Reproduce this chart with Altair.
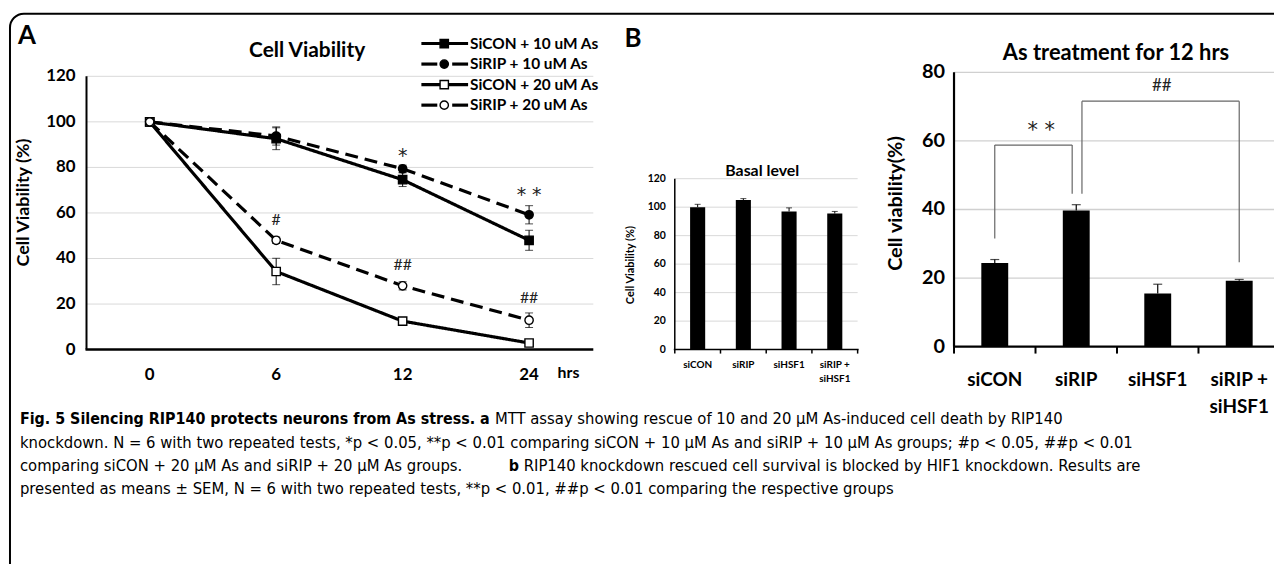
import altair as alt
import pandas as pd

OFF = 8          # page margin; all pixel positions below are page coordinates minus OFF
W, H = 1274, 556
FONT = "Lato"
SIG_FONT = "DejaVu Sans"
CAP_FONT = "DejaVu Sans Condensed, Liberation Sans Narrow, Noto Sans"

# ---------------- Panel A data ----------------
hours = ["0", "6", "12", "24"]
series = ["SiCON + 10 uM As", "SiRIP + 10 uM As", "SiCON + 20 uM As", "SiRIP + 20 uM As"]
sicon10 = [100, 92.6, 74.6, 48.0]
sirip10 = [100, 93.8, 79.4, 59.2]
sicon20 = [100, 34.3, 12.5, 2.9]
sirip20 = [100, 48.0, 28.0, 12.9]
sicon10_err = [0.8, 4.8, 3.0, 4.4]
sirip10_err = [0.8, 4.0, 1.6, 4.0]
sicon20_err = [0.8, 5.8, 1.0, 0.6]
sirip20_err = [0.8, 1.4, 1.8, 3.2]
a_sig_text = ["*", "* *", "#", "##", "##"]
a_sig_hour = ["12", "24", "6", "12", "24"]
a_sig_y = [85, 68, 57, 37, 22.5]
a_ticks = [0, 20, 40, 60, 80, 100, 120]

# ---------------- Panel B data ----------------
groups = ["siCON", "siRIP", "siHSF1", "siRIP + siHSF1"]
group_labels = ["siCON", "siRIP", "siHSF1", "siRIP +\nsiHSF1"]
basal = [100, 105, 97, 95.5]
basal_err = [2, 1, 2.5, 1.5]
basal_ticks = [0, 20, 40, 60, 80, 100, 120]
as12 = [24.4, 39.7, 15.5, 19.2]
as12_err = [1.0, 1.7, 2.7, 0.4]
as12_ticks = [0, 20, 40, 60, 80]
br_x1 = [0.0, 0.0, 0.95, 1.07, 1.07, 3.0]
br_x2 = [0.0, 0.95, 0.95, 1.07, 3.0, 3.0]
br_y1 = [31.5, 58.8, 58.8, 44.6, 71.6, 71.6]
br_y2 = [58.8, 58.8, 44.6, 71.6, 71.6, 24.6]
b_sig_text = ["* *", "##"]
b_sig_x = [0.57, 2.05]
b_sig_y = [63, 76]

# ---------------- tables ----------------
rows = []
for name, vals, errs in zip(series, [sicon10, sirip10, sicon20, sirip20],
                            [sicon10_err, sirip10_err, sicon20_err, sirip20_err]):
    for i, (h, v, e) in enumerate(zip(hours, vals, errs)):
        rows.append(dict(series=name, hour=h, idx=i, v=v, lo=v - e, hi=v + e))
dfA = pd.DataFrame(rows)
dfAsig = pd.DataFrame(dict(t=a_sig_text, hour=a_sig_hour, v=a_sig_y))
dfAt = pd.DataFrame(dict(t=a_ticks))
dfH = pd.DataFrame(dict(hour=hours))
dfLeg = pd.DataFrame(dict(series=series))
dfB1 = pd.DataFrame(dict(g=groups, lab=group_labels, v=basal, hi=[a + b for a, b in zip(basal, basal_err)]))
dfB2 = pd.DataFrame(dict(g=groups, lab=group_labels, v=as12, hi=[a + b for a, b in zip(as12, as12_err)]))
dfB1t = pd.DataFrame(dict(t=basal_ticks))
dfB2t = pd.DataFrame(dict(t=as12_ticks))
dfBr = pd.DataFrame(dict(x1=br_x1, x2=br_x2, y1=br_y1, y2=br_y2))
dfBsig = pd.DataFrame(dict(t=b_sig_text, x=b_sig_x, y=b_sig_y))
dfBound = pd.DataFrame(dict(b=[-0.5, 0.5, 1.5, 2.5, 3.5]))
one = pd.DataFrame(dict(a=[0]))

def P(v):
    return v - OFF

# ---------------- scales ----------------
ax = alt.Scale(type="point", domain=hours, range=[P(87), P(596)], padding=0.5)
ay = alt.Scale(domain=[0, 120], range=[P(350), P(75)], nice=False, zero=True)
ly = alt.Scale(type="point", domain=series, range=[P(42), P(104)], padding=0)
dash_scale = alt.Scale(domain=series, range=[[1, 0], [13, 7], [1, 0], [13, 7]])
shape_scale = alt.Scale(domain=series, range=["square", "circle", "square", "circle"])
fill_scale = alt.Scale(domain=series, range=["black", "black", "white", "white"])
size_scale = alt.Scale(domain=series, range=[70, 70, 72, 50])

b1x = alt.Scale(type="band", domain=groups, range=[P(679), P(863)], paddingInner=0.67, paddingOuter=0.335)
b1l = alt.Scale(domain=[-0.5, 3.5], range=[P(679), P(863)], nice=False, zero=False)
b1y = alt.Scale(domain=[0, 120], range=[P(350), P(178)], nice=False)
b2x = alt.Scale(type="band", domain=groups, range=[P(960), P(1288)], paddingInner=0.67, paddingOuter=0.335)
b2l = alt.Scale(domain=[-0.5, 3.5], range=[P(960), P(1288)], nice=False, zero=False)
b2y = alt.Scale(domain=[0, 80], range=[P(347), P(71)], nice=False)

def txt(**kw):
    base = dict(font=FONT, fontWeight="bold", color="black")
    base.update(kw)
    return base

layers = []

# border
layers.append(alt.Chart(one).mark_rect(fillOpacity=0, stroke="black", strokeWidth=2, cornerRadius=14).encode(
    x=alt.value(P(10)), x2=alt.value(1500), y=alt.value(P(12)), y2=alt.value(900)))

# ======== Panel A ========
layers.append(alt.Chart(one).mark_text(**txt(fontSize=26, align="center", baseline="middle")).encode(
    x=alt.value(P(27)), y=alt.value(P(34)), text=alt.value("A")))
layers.append(alt.Chart(dfAt[dfAt.t > 0]).mark_rule(color="#d9d9d9", strokeWidth=1).encode(
    y=alt.Y("t:Q", scale=ay, axis=None), x=alt.value(P(87)), x2=alt.value(P(597))))
layers.append(alt.Chart(one).mark_rule(color="black", strokeWidth=2).encode(
    x=alt.value(P(87)), y=alt.Y(datum=0, scale=ay, axis=None), y2=alt.Y2(datum=120)))
layers.append(alt.Chart(one).mark_rule(color="black", strokeWidth=2.5).encode(
    y=alt.Y(datum=0, scale=ay, axis=None), x=alt.value(P(86)), x2=alt.value(P(597))))
layers.append(alt.Chart(dfAt).mark_text(**txt(fontSize=17, align="right", baseline="middle")).encode(
    y=alt.Y("t:Q", scale=ay, axis=None), x=alt.value(P(76)), text=alt.Text("t:Q")))
layers.append(alt.Chart(dfH).mark_text(**txt(fontSize=17, align="center", baseline="middle")).encode(
    x=alt.X("hour:O", scale=ax, axis=None), y=alt.value(P(376)), text="hour:N"))
layers.append(alt.Chart(one).mark_text(**txt(fontSize=16, align="center", baseline="middle")).encode(
    x=alt.value(P(572)), y=alt.value(P(374)), text=alt.value("hrs")))
layers.append(alt.Chart(one).mark_text(**txt(fontSize=18, align="center", baseline="middle", angle=270)).encode(
    x=alt.value(P(24)), y=alt.value(P(202)), text=alt.value("Cell Viability (%)")))
layers.append(alt.Chart(one).mark_text(**txt(fontSize=21, align="center", baseline="middle")).encode(
    x=alt.value(P(309)), y=alt.value(P(50)), text=alt.value("Cell Viability")))

layers.append(alt.Chart(dfA).mark_line(strokeWidth=3.2, color="black").encode(
    x=alt.X("hour:O", scale=ax, axis=None), y=alt.Y("v:Q", scale=ay, axis=None),
    detail="series:N", order=alt.Order("idx:Q"),
    strokeDash=alt.StrokeDash("series:N", scale=dash_scale, legend=None)))
layers.append(alt.Chart(dfA).mark_rule(color="black", strokeWidth=1).encode(
    x=alt.X("hour:O", scale=ax, axis=None), y=alt.Y("lo:Q", scale=ay, axis=None), y2="hi:Q"))
for col in ["lo", "hi"]:
    layers.append(alt.Chart(dfA).mark_tick(color="black", thickness=1, size=8, orient="horizontal").encode(
        x=alt.X("hour:O", scale=ax, axis=None), y=alt.Y(f"{col}:Q", scale=ay, axis=None)))
layers.append(alt.Chart(dfA).mark_point(filled=True, stroke="black", strokeWidth=1.4, opacity=1).encode(
    x=alt.X("hour:O", scale=ax, axis=None), y=alt.Y("v:Q", scale=ay, axis=None),
    shape=alt.Shape("series:N", scale=shape_scale, legend=None),
    fill=alt.Fill("series:N", scale=fill_scale, legend=None),
    size=alt.Size("series:N", scale=size_scale, legend=None)))
dfAstar = dfAsig[dfAsig.t.str.startswith("*")]
dfAhash = dfAsig[dfAsig.t.str.startswith("#")]
layers.append(alt.Chart(dfAstar).mark_text(font=SIG_FONT, fontSize=19, color="#222", align="center", baseline="middle").encode(
    x=alt.X("hour:O", scale=ax, axis=None), y=alt.Y("v:Q", scale=ay, axis=None), text="t:N"))
layers.append(alt.Chart(dfAhash).mark_text(font=FONT, fontSize=16, color="#222", align="center", baseline="middle").encode(
    x=alt.X("hour:O", scale=ax, axis=None), y=alt.Y("v:Q", scale=ay, axis=None), text="t:N"))

# legend
solid = dfLeg[dfLeg.series.str.startswith("SiCON")]
dashed = dfLeg[dfLeg.series.str.startswith("SiRIP")]
layers.append(alt.Chart(solid).mark_rule(color="black", strokeWidth=3.2).encode(
    y=alt.Y("series:N", scale=ly, axis=None), x=alt.value(P(424)), x2=alt.value(P(471))))
for x1, x2 in [(424, 440), (455, 471)]:
    layers.append(alt.Chart(dashed).mark_rule(color="black", strokeWidth=3.2).encode(
        y=alt.Y("series:N", scale=ly, axis=None), x=alt.value(P(x1)), x2=alt.value(P(x2))))
layers.append(alt.Chart(dfLeg).mark_point(filled=True, stroke="black", strokeWidth=1.4, opacity=1).encode(
    y=alt.Y("series:N", scale=ly, axis=None), x=alt.value(P(447)),
    shape=alt.Shape("series:N", scale=shape_scale, legend=None),
    fill=alt.Fill("series:N", scale=fill_scale, legend=None),
    size=alt.Size("series:N", scale=size_scale, legend=None)))
layers.append(alt.Chart(dfLeg).mark_text(**txt(fontSize=15.5, align="left", baseline="middle")).encode(
    y=alt.Y("series:N", scale=ly, axis=None), x=alt.value(P(473)), text="series:N"))

# ======== Panel B ========
layers.append(alt.Chart(one).mark_text(**txt(fontSize=26, align="center", baseline="middle")).encode(
    x=alt.value(P(637)), y=alt.value(P(37)), text=alt.value("B")))

# small chart
layers.append(alt.Chart(dfB1t[dfB1t.t > 0]).mark_rule(color="#d9d9d9", strokeWidth=1).encode(
    y=alt.Y("t:Q", scale=b1y, axis=None), x=alt.value(P(679)), x2=alt.value(P(863))))
layers.append(alt.Chart(dfB1).mark_bar(color="black").encode(
    x=alt.X("g:N", scale=b1x, axis=None), y=alt.Y("v:Q", scale=b1y, axis=None)))
layers.append(alt.Chart(dfB1).mark_rule(color="black", strokeWidth=1).encode(
    x=alt.X("g:N", scale=b1x, axis=None, bandPosition=0.5), y=alt.Y("v:Q", scale=b1y, axis=None), y2="hi:Q"))
layers.append(alt.Chart(dfB1).mark_tick(color="black", thickness=1, size=6, orient="horizontal").encode(
    x=alt.X("g:N", scale=b1x, axis=None, bandPosition=0.5), y=alt.Y("hi:Q", scale=b1y, axis=None)))
layers.append(alt.Chart(one).mark_rule(color="black", strokeWidth=1.5).encode(
    x=alt.value(P(679)), y=alt.Y(datum=0, scale=b1y, axis=None), y2=alt.Y2(datum=120)))
layers.append(alt.Chart(one).mark_rule(color="black", strokeWidth=1.5).encode(
    y=alt.Y(datum=0, scale=b1y, axis=None), x=alt.value(P(678)), x2=alt.value(P(864))))
layers.append(alt.Chart(dfBound).mark_rule(color="black", strokeWidth=1.5).encode(
    x=alt.X("b:Q", scale=b1l, axis=None), y=alt.value(P(350)), y2=alt.value(P(354))))
layers.append(alt.Chart(dfB1t).mark_text(**txt(fontSize=10.5, align="right", baseline="middle")).encode(
    y=alt.Y("t:Q", scale=b1y, axis=None), x=alt.value(P(670)), text=alt.Text("t:Q")))
layers.append(alt.Chart(dfB1).mark_text(**txt(fontSize=10, align="center", baseline="top", lineBreak="\n", lineHeight=14)).encode(
    x=alt.X("g:N", scale=b1x, axis=None, bandPosition=0.5), y=alt.value(P(361)), text="lab:N"))
layers.append(alt.Chart(one).mark_text(**txt(fontSize=11, align="center", baseline="middle", angle=270)).encode(
    x=alt.value(P(635)), y=alt.value(P(265)), text=alt.value("Cell Viability (%)")))
layers.append(alt.Chart(one).mark_text(**txt(fontSize=16, align="center", baseline="middle")).encode(
    x=alt.value(P(767)), y=alt.value(P(170)), text=alt.value("Basal level")))

# large chart
layers.append(alt.Chart(dfB2t[dfB2t.t > 0]).mark_rule(color="#d0d0d0", strokeWidth=1.3).encode(
    y=alt.Y("t:Q", scale=b2y, axis=None), x=alt.value(P(960)), x2=alt.value(1400)))
layers.append(alt.Chart(dfB2).mark_bar(color="black").encode(
    x=alt.X("g:N", scale=b2x, axis=None), y=alt.Y("v:Q", scale=b2y, axis=None)))
layers.append(alt.Chart(dfB2).mark_rule(color="black", strokeWidth=1.2).encode(
    x=alt.X("g:N", scale=b2x, axis=None, bandPosition=0.5), y=alt.Y("v:Q", scale=b2y, axis=None), y2="hi:Q"))
layers.append(alt.Chart(dfB2).mark_tick(color="black", thickness=1.2, size=9, orient="horizontal").encode(
    x=alt.X("g:N", scale=b2x, axis=None, bandPosition=0.5), y=alt.Y("hi:Q", scale=b2y, axis=None)))
layers.append(alt.Chart(dfBr).mark_rule(color="#666666", strokeWidth=1.2).encode(
    x=alt.X("x1:Q", scale=b2l, axis=None), x2="x2:Q", y=alt.Y("y1:Q", scale=b2y, axis=None), y2="y2:Q"))
dfBstar = dfBsig[dfBsig.t.str.startswith("*")]
dfBhash = dfBsig[dfBsig.t.str.startswith("#")]
layers.append(alt.Chart(dfBstar).mark_text(font=SIG_FONT, fontSize=21, color="#222", align="center", baseline="middle").encode(
    x=alt.X("x:Q", scale=b2l, axis=None), y=alt.Y("y:Q", scale=b2y, axis=None), text="t:N"))
layers.append(alt.Chart(dfBhash).mark_text(font=FONT, fontSize=17, color="#222", align="center", baseline="middle").encode(
    x=alt.X("x:Q", scale=b2l, axis=None), y=alt.Y("y:Q", scale=b2y, axis=None), text="t:N"))
layers.append(alt.Chart(one).mark_rule(color="black", strokeWidth=2.2).encode(
    x=alt.value(P(960)), y=alt.Y(datum=0, scale=b2y, axis=None), y2=alt.Y2(datum=80)))
layers.append(alt.Chart(one).mark_rule(color="black", strokeWidth=2.2).encode(
    y=alt.Y(datum=0, scale=b2y, axis=None), x=alt.value(P(959)), x2=alt.value(1400)))
layers.append(alt.Chart(dfBound).mark_rule(color="black", strokeWidth=2).encode(
    x=alt.X("b:Q", scale=b2l, axis=None), y=alt.value(P(347)), y2=alt.value(P(354))))
layers.append(alt.Chart(dfB2t).mark_text(**txt(fontSize=20, align="right", baseline="middle")).encode(
    y=alt.Y("t:Q", scale=b2y, axis=None), x=alt.value(P(951)), text=alt.Text("t:Q")))
layers.append(alt.Chart(dfB2).mark_text(**txt(fontSize=19, align="center", baseline="top", lineBreak="\n", lineHeight=27)).encode(
    x=alt.X("g:N", scale=b2x, axis=None, bandPosition=0.5), y=alt.value(P(372)), text="lab:N"))
layers.append(alt.Chart(one).mark_text(**txt(fontSize=20, align="center", baseline="middle", angle=270)).encode(
    x=alt.value(P(902)), y=alt.value(P(203)), text=alt.value("Cell viability(%)")))
layers.append(alt.Chart(one).mark_text(**txt(fontSize=22, align="center", baseline="middle")).encode(
    x=alt.value(P(1123)), y=alt.value(P(52)), text=alt.value("As treatment for 12 hrs")))

# ======== Caption ========
CAP_REG = 16.6
CAP_BOLD = 16
cap = [
    (20, 420, "bold", CAP_BOLD, "Fig. 5 Silencing RIP140 protects neurons from As stress. a"),
    (498, 420, "normal", CAP_REG, "MTT assay showing rescue of 10 and 20 \u03bcM As-induced cell death by RIP140"),
    (20, 444, "normal", CAP_REG, "knockdown. N = 6 with two repeated tests, *p < 0.05, **p < 0.01 comparing siCON + 10 \u03bcM As and siRIP + 10 \u03bcM As groups; #p < 0.05, ##p < 0.01"),
    (20, 467, "normal", CAP_REG, "comparing siCON + 20 \u03bcM As and siRIP + 20 \u03bcM As groups."),
    (512, 467, "bold", CAP_BOLD, "b"),
    (527, 467, "normal", CAP_REG, "RIP140 knockdown rescued cell survival is blocked by HIF1 knockdown. Results are"),
    (20, 490, "normal", CAP_REG, "presented as means \u00b1 SEM, N = 6 with two repeated tests, **p < 0.01, ##p < 0.01 comparing the respective groups"),
]
for x, y, wgt, fs, s in cap:
    layers.append(alt.Chart(one).mark_text(font=CAP_FONT, fontSize=fs, fontWeight=wgt, color="black",
                                           align="left", baseline="middle").encode(
        x=alt.value(P(x)), y=alt.value(P(y)), text=alt.value(s)))

chart = alt.layer(*layers).resolve_scale(
    x="independent", y="independent", shape="independent", fill="independent",
    size="independent", strokeDash="independent"
).properties(
    width=W, height=H, autosize=alt.AutoSizeParams(type="none"), padding=0
).configure_view(stroke=None)

chart.save("out.html", embed_options={"renderer": "svg", "actions": False})
